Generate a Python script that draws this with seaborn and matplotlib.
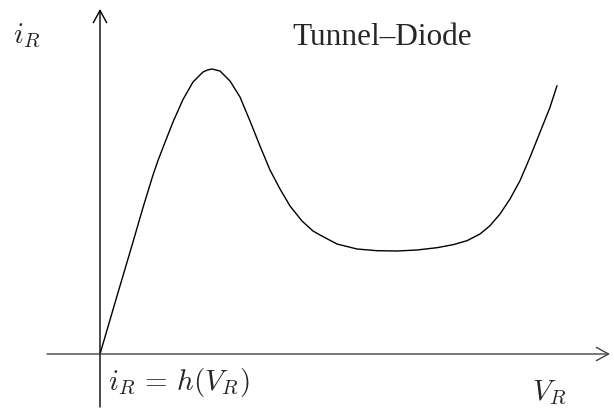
import matplotlib
matplotlib.use("Agg")
import matplotlib.pyplot as plt
import seaborn as sns
import pandas as pd

# Tunnel-diode characteristic i_R = h(V_R), in arbitrary units
v_r = [0.000, 0.170, 0.330, 0.430, 0.530, 0.580, 0.630, 0.730, 0.830, 0.930,
       1.030, 1.075, 1.120, 1.160, 1.200, 1.300, 1.400, 1.500, 1.600, 1.700,
       1.800, 1.900, 2.020, 2.130, 2.200, 2.370, 2.570, 2.770, 2.970, 3.170,
       3.370, 3.530, 3.670, 3.800, 3.900, 4.000, 4.100, 4.200, 4.300, 4.400,
       4.500, 4.570]
i_r = [0.000, 0.580, 1.120, 1.465, 1.790, 1.935, 2.065, 2.320, 2.545, 2.720,
       2.820, 2.840, 2.850, 2.840, 2.830, 2.730, 2.570, 2.330, 2.080, 1.840,
       1.650, 1.480, 1.330, 1.230, 1.190, 1.100, 1.050, 1.033, 1.030, 1.040,
       1.063, 1.093, 1.133, 1.200, 1.283, 1.400, 1.550, 1.733, 1.967, 2.217,
       2.467, 2.683]

title_text = "Tunnel\u2013Diode"
y_label = r"$i_R$"
x_label = r"$V_R$"
curve_label = r"$i_R\,=\,h(V_R)$"

sns.set_theme(style="white")
plt.rcParams["mathtext.fontset"] = "cm"
plt.rcParams["font.family"] = ["Liberation Serif", "DejaVu Serif"]

df = pd.DataFrame({"V": v_r, "I": i_r})

fig = plt.figure(figsize=(6.14, 4.14), dpi=100)
ax = fig.add_axes([0, 0, 1, 1])
ax.set_xlim(-1.0, 5.14)
ax.set_ylim(-0.59, 3.55)
ax.axis("off")

sns.lineplot(data=df, x="V", y="I", ax=ax, color="black", lw=1.0,
             sort=False, estimator=None)

arrow = dict(arrowstyle="->,head_length=0.55,head_width=0.3", color="black",
             lw=1.0, mutation_scale=16, shrinkA=0, shrinkB=0)
ax.annotate("", xy=(0, 3.45), xytext=(0, -0.53), arrowprops=arrow)
ax.annotate("", xy=(5.10, 0), xytext=(-0.53, 0),
            arrowprops=dict(arrow, color="#444444"))

ax.text(-0.87, 3.12, y_label, fontsize=21, va="baseline", ha="left")
ax.text(1.92, 3.10, title_text, fontsize=22.5, va="baseline", ha="left")
ax.text(0.08, -0.35, curve_label, fontsize=21, va="baseline", ha="left")
ax.text(4.32, -0.45, x_label, fontsize=21, va="baseline", ha="left")

fig.savefig("out.png", dpi=100)
